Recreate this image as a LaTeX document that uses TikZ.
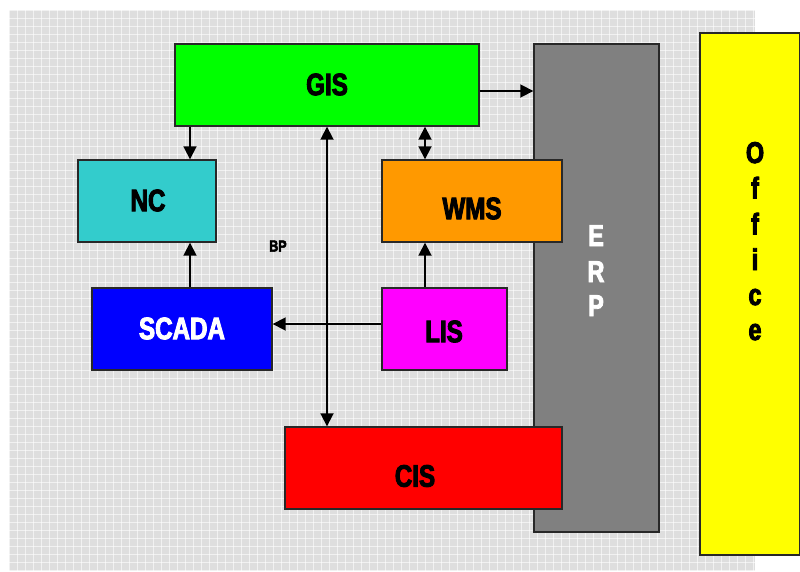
\documentclass[tikz,border=0pt]{standalone}
\usepackage{fontspec}
\newfontfamily\impact{Liberation Sans}[UprightFont=* Bold,FakeStretch=0.78,FakeBold=3]
\usetikzlibrary{arrows.meta}
\definecolor{bggray}{RGB}{222,222,222}
\definecolor{gisgreen}{RGB}{0,255,0}
\definecolor{nccyan}{RGB}{51,204,204}
\definecolor{wmsorange}{RGB}{255,153,0}
\definecolor{scadablue}{RGB}{0,0,255}
\definecolor{lismag}{RGB}{255,0,255}
\definecolor{cisred}{RGB}{255,0,0}
\definecolor{erpgray}{RGB}{128,128,128}
\definecolor{offyellow}{RGB}{255,255,0}
\definecolor{edge}{RGB}{40,40,40}
\tikzset{
  sysbox/.style={draw=edge,line width=1.4pt,inner sep=0pt,anchor=center},
  lbl/.style={font=\impact\fontsize{31}{31}\selectfont,inner sep=0pt},
  vlbl/.style={font=\impact\fontsize{30}{30}\selectfont,inner sep=0pt,anchor=base},
  conn/.style={line width=1.8pt,-{Triangle[length=13pt,width=13pt]}},
  conn2/.style={line width=1.8pt,{Triangle[length=13pt,width=13pt]}-{Triangle[length=13pt,width=13pt]}}
}
\begin{document}
\begin{tikzpicture}[x=1pt,y=-1pt]
\useasboundingbox (0,0) rectangle (800,571);
% background
\fill[bggray] (9,10) rectangle (755,571);
\foreach \i in {0,...,93} {\draw[white,line width=0.9pt,opacity=0.6] (9+8*\i,10) -- (9+8*\i,571);}
\foreach \j in {0,...,70} {\draw[white,line width=0.9pt,opacity=0.6] (9,10+8*\j) -- (755,10+8*\j);}
% boxes
\node[sysbox,fill=offyellow,minimum width=100pt,minimum height=522pt] (office) at (750,294) {};
\node[sysbox,fill=erpgray,minimum width=125pt,minimum height=488pt] (erp) at (596.5,288) {};
\node[sysbox,fill=gisgreen,minimum width=304pt,minimum height=82pt] (gis) at (327,85) {};
\node[sysbox,fill=nccyan,minimum width=138pt,minimum height=82pt] (nc) at (147,201) {};
\node[sysbox,fill=wmsorange,minimum width=180pt,minimum height=82pt] (wms) at (472,201) {};
\node[sysbox,fill=scadablue,minimum width=180pt,minimum height=82pt] (scada) at (182,329) {};
\node[sysbox,fill=lismag,minimum width=125pt,minimum height=82pt] (lis) at (444.5,329) {};
\node[sysbox,fill=cisred,minimum width=277pt,minimum height=82pt] (cis) at (423.5,468) {};
% labels
\node[lbl] (gisT) at (327,84.5) {GIS};
\node[lbl] (ncT) at (148,200.5) {NC};
\node[lbl] (wmsT) at (472,208.5) {WMS};
\node[lbl,text=white] (scadaT) at (182,328.5) {SCADA};
\node[lbl] (lisT) at (444,331.5) {LIS};
\node[lbl] (cisT) at (415,476) {CIS};
\node[font=\impact\fontsize{16}{16}\selectfont,inner sep=0pt] (bpT) at (278,246) {BP};
% vertical texts
\node[vlbl,text=white] (erpE) at (596,246) {E};
\node[vlbl,text=white] (erpR) at (596,282) {R};
\node[vlbl,text=white] (erpP) at (596,316) {P};
\node[vlbl] (offO) at (755,163) {O};
\node[vlbl] (offF1) at (755,198.5) {f};
\node[vlbl] (offF2) at (755,234.5) {f};
\node[vlbl] (offI) at (755,270) {i};
\node[vlbl] (offC) at (755,305) {c};
\node[vlbl] (offE) at (755,340) {e};
% helper coordinates
\coordinate (xa) at (190,0);
\coordinate (xb) at (327,0);
\coordinate (xc) at (425,0);
\coordinate (ya) at (0,91);
\coordinate (yb) at (0,324);
% connectors
\draw[conn] (gis.east |- ya) -- (erp.west |- ya);
\draw[conn] (xa |- gis.south) -- (xa |- nc.north);
\draw[conn2] (xc |- gis.south) -- (xc |- wms.north);
\draw[conn2] (xb |- gis.south) -- (xb |- cis.north);
\draw[conn] (xa |- scada.north) -- (xa |- nc.south);
\draw[conn] (xc |- lis.north) -- (xc |- wms.south);
\draw[conn] (lis.west |- yb) -- (scada.east |- yb);
\end{tikzpicture}
\end{document}
